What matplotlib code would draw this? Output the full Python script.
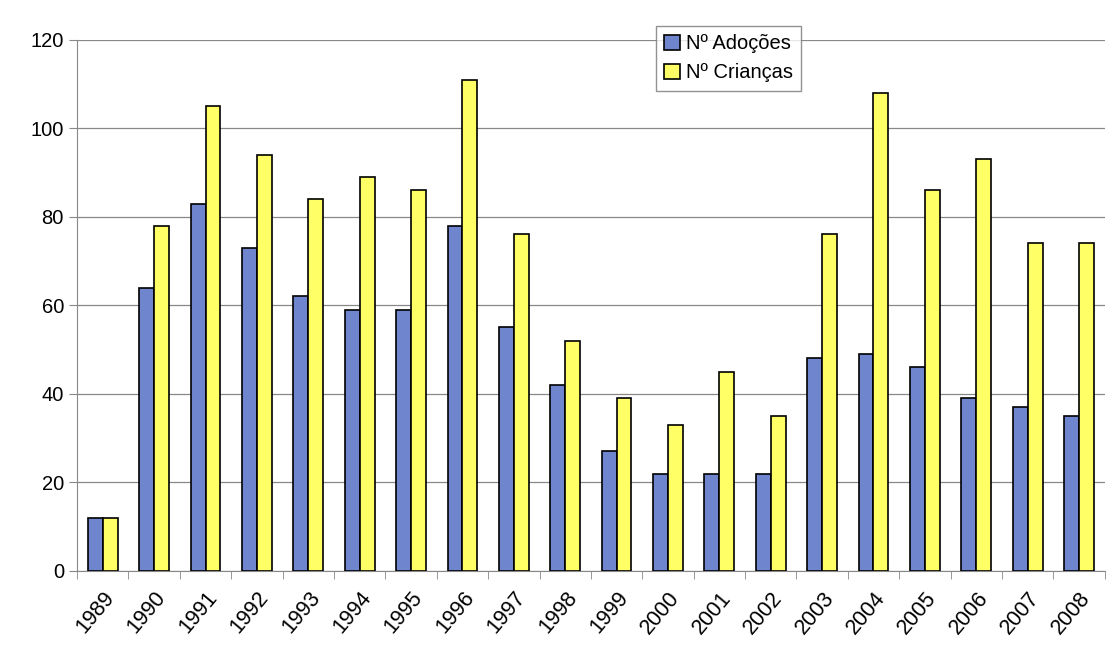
import matplotlib.pyplot as plt
import numpy as np

plt.rcParams['font.family'] = ['Liberation Sans', 'DejaVu Sans']

years = ['1989', '1990', '1991', '1992', '1993', '1994', '1995', '1996', '1997', '1998',
         '1999', '2000', '2001', '2002', '2003', '2004', '2005', '2006', '2007', '2008']
adocoes = [12, 64, 83, 73, 62, 59, 59, 78, 55, 42, 27, 22, 22, 22, 48, 49, 46, 39, 37, 35]
criancas = [12, 78, 105, 94, 84, 89, 86, 111, 76, 52, 39, 33, 45, 35, 76, 108, 86, 93, 74, 74]

fig = plt.figure(figsize=(11.17, 6.51), dpi=100)
ax = fig.add_axes([0.069, 0.123, 0.920, 0.816])

x = np.arange(len(years))
w = 0.29
ax.bar(x - w / 2, adocoes, w, color='#6f86cf', edgecolor='black', linewidth=1.2,
       label='Nº Adoções', zorder=3)
ax.bar(x + w / 2, criancas, w, color='#ffff66', edgecolor='black', linewidth=1.2,
       label='Nº Crianças', zorder=3)

ax.set_xlim(-0.5, len(years) - 0.5)
ax.set_ylim(0, 120)
ax.set_yticks(range(0, 121, 20))
ax.yaxis.grid(True, color='#888888', linewidth=0.9, zorder=0)
ax.tick_params(axis='y', labelsize=14.5, length=6, color='#888888')

ax.set_xticks(x)
ax.set_xticklabels(years, rotation=50, ha='right', rotation_mode='anchor', fontsize=15.5)
ax.tick_params(axis='x', length=0, pad=12)
ax.set_xticks(np.arange(-0.5, len(years)), minor=True)
ax.tick_params(axis='x', which='minor', length=6, color='#888888')

for s in ['top', 'right']:
    ax.spines[s].set_visible(False)
ax.spines['left'].set_color('#888888')
ax.spines['bottom'].set_color('#888888')

leg = fig.legend(loc='upper left', bbox_to_anchor=(0.578, 0.975), fontsize=14.5,
                 frameon=True, fancybox=False, edgecolor='#777777',
                 handlelength=0.8, handleheight=0.8, handletextpad=0.3,
                 borderpad=0.4, labelspacing=0.5)
leg.get_frame().set_linewidth(1.0)

fig.savefig('out.png', dpi=100)
